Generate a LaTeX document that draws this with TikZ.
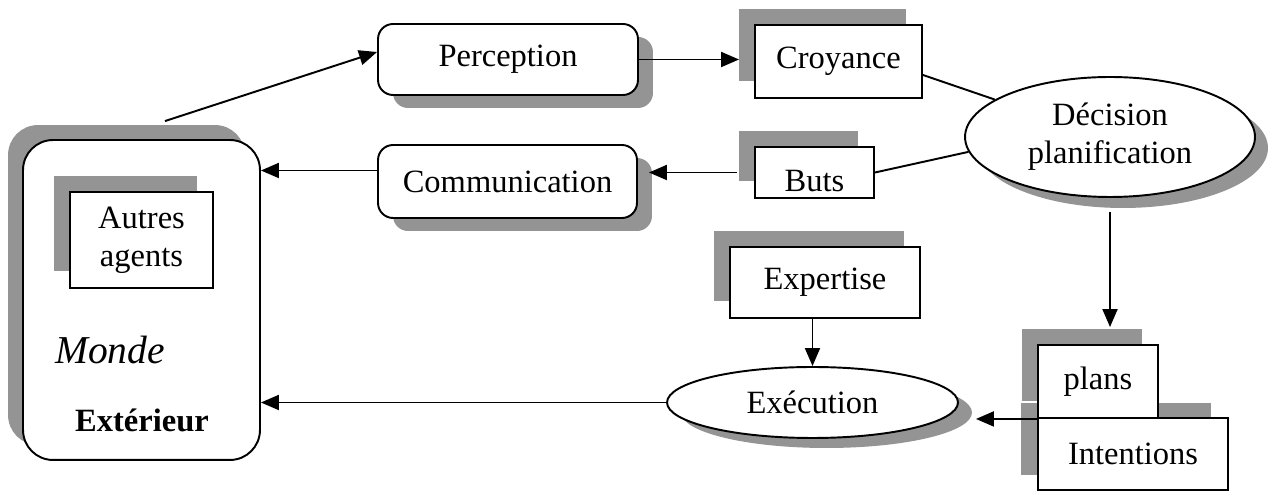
\documentclass[tikz,border=0pt]{standalone}
\usepackage{fontspec}
\setmainfont{Liberation Serif}
\usetikzlibrary{arrows.meta,shapes.geometric,shadows}

\begin{document}
\begin{tikzpicture}[x=0.02cm,y=-0.02cm,
  every node/.style={font=\fontsize{18.5}{21.5}\selectfont, inner sep=0pt, align=center},
  shade col/.style={fill=black!42, opacity=1},
  ulshadow/.style={drop shadow={shadow xshift=-0.32cm, shadow yshift=0.33cm, shade col}},
  brshadow/.style={drop shadow={shadow xshift=0.3cm, shadow yshift=-0.26cm, shade col}},
  sqbox/.style={draw, line width=1.1pt, fill=white, rectangle},
  rbox/.style={draw, line width=1.1pt, fill=white, rectangle, rounded corners=0.3cm},
  oval/.style={draw, line width=1.1pt, fill=white, ellipse},
  conn/.style={line width=1.1pt},
  arr/.style={conn, -{Triangle[length=0.36cm, width=0.3cm]}}
]
\useasboundingbox (0,0) rectangle (1268,492);

% outside world and other agents
\node[draw, line width=1.1pt, fill=white, rounded corners=0.6cm,
      minimum width=4.74cm, minimum height=6.4cm,
      drop shadow={shadow xshift=-0.3cm, shadow yshift=0.3cm, shade col}]
      (monde) at (141.5,300) {};
\node[sqbox, ulshadow, minimum width=2.86cm, minimum height=1.92cm]
      (autres) at (141.5,240) {Autres\\agents};
\node[font=\fontsize{22.5}{26}\selectfont\itshape] (mondetxt) at (110,350) {Monde};
\node[font=\fontsize{18.5}{21.5}\selectfont\bfseries] (exttxt) at (142,420) {Extérieur};

% perception / communication
\node[rbox, brshadow, minimum width=5.2cm, minimum height=1.42cm]
      (perc) at (508,59.5) {Perception};
\node[rbox, brshadow, minimum width=5.18cm, minimum height=1.46cm]
      (comm) at (507.5,181.5) {Communication};

% beliefs and goals
\node[sqbox, ulshadow, minimum width=3.34cm, minimum height=1.46cm]
      (croy) at (838.5,61.5) {Croyance};
\node[sqbox, ulshadow, minimum width=2.38cm, minimum height=1.02cm]
      (buts) at (814.5,172.5) {};
\node (butstxt) at (814.5,181) {Buts};

% decision
\node[oval, drop shadow={shadow xshift=0.26cm, shadow yshift=-0.22cm, shade col},
      minimum width=5.8cm, minimum height=2.4cm]
      (dec) at (1110,137) {Décision\\planification};

% expertise and execution
\node[sqbox, ulshadow, minimum width=3.8cm, minimum height=1.42cm]
      (exp) at (825,282.5) {Expertise};
\node[oval, drop shadow={shadow xshift=0.28cm, shadow yshift=-0.2cm, shade col},
      minimum width=5.82cm, minimum height=1.42cm]
      (exe) at (812.5,402.5) {Exécution};

% intentions first, plans stacked over its shadow
\node[sqbox, drop shadow={shadow xshift=-0.34cm, shadow yshift=0.3cm, shade col},
      minimum width=3.8cm, minimum height=1.44cm]
      (intent) at (1133,454) {Intentions};
\node[sqbox, ulshadow, minimum width=2.4cm, minimum height=1.46cm]
      (plans) at (1098,381.5) {plans};

% helper points on shadow edges
\coordinate (mondetop) at ([xshift=0.47cm, yshift=0.36cm]monde.north);
\coordinate (percin) at ([yshift=0.15cm]perc.west);
\coordinate (croyin) at ([xshift=-0.3cm]croy.west);
\coordinate (butsout) at ([xshift=-0.34cm]buts.west);
\coordinate (commin) at ([xshift=0.22cm]comm.east);
\coordinate (commout) at ([yshift=0.22cm]comm.west);
\coordinate (decout) at ([yshift=-0.28cm]dec.south);
\coordinate (plansin) at ([yshift=0.34cm]plans.north);
\coordinate (exein) at ([xshift=0.34cm]exe.east);
\coordinate (croyout) at ([yshift=-0.27cm]croy.east);

% connectors
\draw[arr] (mondetop) -- (percin);
\draw[arr] (perc.east) -- (croyin |- perc.east);
\draw[conn] (croyout) -- (dec.162);
\draw[conn] (buts.east) -- (dec.186);
\draw[arr] (butsout) -- (commin |- butsout);
\draw[arr] (commout) -- (monde.east |- commout);
\draw[arr] (decout) -- (plansin -| decout);
\draw[arr] (exe.north |- exp.south) -- (exe.north);
\draw[arr] (plans.south west) -- (exein |- plans.south west);
\draw[arr] (exe.west) -- (monde.east |- exe.west);
\end{tikzpicture}
\end{document}
